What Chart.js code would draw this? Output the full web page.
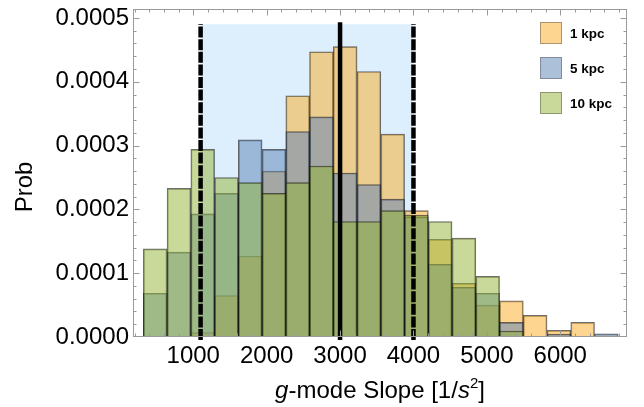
<!DOCTYPE html>
<html>
<head>
<meta charset="utf-8">
<script src="https://cdn.jsdelivr.net/npm/chart.js@4.4.1/dist/chart.umd.min.js"></script>
<style>
  html, body { margin: 0; padding: 0; background: #fff; }
</style>
</head>
<body>
<canvas id="slopeHist" width="644" height="407"></canvas>
<script>
// Histogram of the g-mode slope for three distances

// bin centres (1/s^2)
const binCenters = [481.75, 805.25, 1128.75, 1452.25, 1775.75, 2099.25, 2422.75, 2746.25, 3069.75, 3393.25,
                    3716.75, 4040.25, 4363.75, 4687.25, 5010.75, 5334.25, 5657.75, 5981.25, 6304.75, 6628.25];

// probability per bin
const prob1kpc  = [0, 0, 0.07e-4, 0.65e-4, 1.27e-4, 2.60e-4, 3.78e-4, 4.47e-4, 4.55e-4, 4.16e-4,
                   3.18e-4, 1.98e-4, 1.53e-4, 0.84e-4, 0.50e-4, 0.565e-4, 0.34e-4, 0.105e-4, 0.23e-4, 0];
const prob5kpc  = [0.685e-4, 1.33e-4, 1.93e-4, 2.25e-4, 3.09e-4, 2.94e-4, 3.22e-4, 3.45e-4, 2.57e-4, 2.39e-4,
                   2.16e-4, 1.88e-4, 1.14e-4, 0.78e-4, 0.685e-4, 0.23e-4, 0, 0.047e-4, 0, 0.05e-4];
const prob10kpc = [1.38e-4, 2.33e-4, 2.94e-4, 2.50e-4, 2.42e-4, 2.25e-4, 2.42e-4, 2.68e-4, 1.81e-4, 1.81e-4,
                   1.98e-4, 1.91e-4, 1.81e-4, 1.55e-4, 0.95e-4, 0.094e-4, 0, 0, 0, 0];

const seriesLabels = ['1 kpc', '5 kpc', '10 kpc'];

const xTickValues = [1000, 2000, 3000, 4000, 5000, 6000];
const yTickValues = [0, 0.0001, 0.0002, 0.0003, 0.0004, 0.0005];

// shaded band and marker lines
const bandRange = [1100, 4000];
const bandTop = 0.00049;
const dashedAt = [1100, 4000];
const solidAt = [3000];

const FONT = "'Liberation Sans', Arial, Helvetica, sans-serif";

function toPoints(vals) {
  return binCenters.map((c, i) => ({ x: c, y: vals[i] || null }));
}

const framePlugin = {
  id: 'mmaFrame',
  beforeDatasetsDraw(chart) {
    const { ctx, scales: { x, y } } = chart;
    const l = x.getPixelForValue(bandRange[0]);
    const r = x.getPixelForValue(bandRange[1]);
    const t = y.getPixelForValue(bandTop);
    const b = y.getPixelForValue(0);
    ctx.save();
    ctx.fillStyle = '#ddeefd';
    ctx.fillRect(l, t, r - l, b - t);
    ctx.restore();
  },
  afterDatasetsDraw(chart) {
    const { ctx, chartArea: a, scales: { x, y } } = chart;
    const y0 = y.getPixelForValue(0);
    const yt = y.getPixelForValue(bandTop);

    ctx.save();
    ctx.strokeStyle = '#000';
    ctx.lineWidth = 4.5;
    ctx.setLineDash([11, 1.6]);
    dashedAt.forEach(v => {
      const px = x.getPixelForValue(v);
      ctx.beginPath();
      ctx.moveTo(px, y0 + 3);
      ctx.lineTo(px, yt);
      ctx.stroke();
    });
    ctx.setLineDash([]);
    solidAt.forEach(v => {
      const px = x.getPixelForValue(v);
      ctx.beginPath();
      ctx.moveTo(px, y0 + 3);
      ctx.lineTo(px, yt - 2);
      ctx.stroke();
    });

    // frame with inward ticks on all sides
    ctx.strokeStyle = '#9a9a9a';
    ctx.lineWidth = 1;
    const L = Math.round(a.left) + 0.5, R = Math.round(a.right) - 0.5;
    const T = Math.round(a.top) + 0.5, B = Math.round(a.bottom) - 0.5;
    ctx.strokeRect(L, T, R - L, B - T);
    ctx.beginPath();
    for (let v = 200; v < x.max; v += 200) {
      const px = Math.round(x.getPixelForValue(v)) + 0.5;
      const len = v % 1000 === 0 ? 6 : 3;
      ctx.moveTo(px, B); ctx.lineTo(px, B - len);
      ctx.moveTo(px, T); ctx.lineTo(px, T + len);
    }
    for (let k = 1; k <= 25; k++) {
      const v = k * 0.00002;
      const py = Math.round(y.getPixelForValue(v)) + 0.5;
      const len = k % 5 === 0 ? 6 : 3;
      ctx.moveTo(L, py); ctx.lineTo(L + len, py);
      ctx.moveTo(R, py); ctx.lineTo(R - len, py);
    }
    ctx.stroke();
    ctx.restore();
  },
  afterDraw(chart) {
    const { ctx, chartArea: a } = chart;
    ctx.save();

    // legend inside the frame, top right
    chart.data.datasets.forEach((ds, i) => {
      const bx = 540, by = 22 + 35 * i;
      ctx.fillStyle = '#fff';
      ctx.fillRect(bx, by, 22, 22);
      ctx.fillStyle = ds.backgroundColor;
      ctx.fillRect(bx, by, 22, 22);
      ctx.strokeStyle = 'rgba(70,70,70,0.45)';
      ctx.lineWidth = 1;
      ctx.strokeRect(bx + 0.5, by + 0.5, 21, 21);
      ctx.fillStyle = '#000';
      ctx.font = 'bold 13.5px ' + FONT;
      ctx.textAlign = 'left';
      ctx.textBaseline = 'middle';
      ctx.fillText(ds.label, 570, by + 12);
    });

    // y title
    ctx.fillStyle = '#000';
    ctx.font = '24px ' + FONT;
    ctx.translate(25, 187);
    ctx.rotate(-Math.PI / 2);
    ctx.textAlign = 'center';
    ctx.textBaseline = 'middle';
    ctx.fillText('Prob', 0, 0);
    ctx.setTransform(1, 0, 0, 1, 0, 0);

    // x title with italic g and s, superscript 2
    const parts = [
      { t: 'g', font: 'italic 24px ' + FONT, dy: 0 },
      { t: '-mode Slope [1/', font: '24px ' + FONT, dy: 0 },
      { t: 's', font: 'italic 24px ' + FONT, dy: 0 },
      { t: '2', font: '15px ' + FONT, dy: -10 },
      { t: ']', font: '24px ' + FONT, dy: 0 }
    ];
    let total = 0;
    parts.forEach(p => { ctx.font = p.font; p.w = ctx.measureText(p.t).width; total += p.w; });
    let cx = (a.left + a.right) / 2 - total / 2;
    ctx.textAlign = 'left';
    ctx.textBaseline = 'alphabetic';
    parts.forEach(p => {
      ctx.font = p.font;
      ctx.fillText(p.t, cx, 398 + p.dy);
      cx += p.w;
    });
    ctx.restore();
  }
};

const barStyle = {
  grouped: false,
  barPercentage: 1,
  categoryPercentage: 1,
  borderWidth: 1,
  borderSkipped: 'start',
  borderColor: 'rgba(20,20,20,0.62)'
};

new Chart(document.getElementById('slopeHist'), {
  type: 'bar',
  data: {
    datasets: [
      Object.assign({ label: seriesLabels[0], data: toPoints(prob1kpc),
        backgroundColor: 'rgba(251,171,36,0.5)', order: 3 }, barStyle),
      Object.assign({ label: seriesLabels[1], data: toPoints(prob5kpc),
        backgroundColor: 'rgba(92,129,181,0.5)', order: 2 }, barStyle),
      Object.assign({ label: seriesLabels[2], data: toPoints(prob10kpc),
        backgroundColor: 'rgba(145,179,53,0.5)', order: 1 }, barStyle)
    ]
  },
  options: {
    responsive: false,
    animation: false,
    devicePixelRatio: 1,
    layout: { padding: { left: 0, right: 17, top: 9, bottom: 0 } },
    plugins: {
      legend: { display: false },
      tooltip: { enabled: false }
    },
    scales: {
      x: {
        type: 'linear',
        offset: false,
        min: 179,
        max: 6909,
        grid: { display: false, drawTicks: false },
        border: { display: false },
        ticks: {
          color: '#000', font: { family: FONT, size: 24 }, padding: 5, maxRotation: 0, autoSkip: false,
          callback: v => String(v)
        },
        afterBuildTicks(s) { s.ticks = xTickValues.map(value => ({ value })); },
        afterFit(s) { s.height = 70; s.paddingLeft = 0; s.paddingRight = 0; }
      },
      y: {
        min: 0,
        max: 0.000514,
        grid: { display: false, drawTicks: false },
        border: { display: false },
        ticks: {
          color: '#000', font: { family: FONT, size: 24 }, padding: 4,
          callback: v => v.toFixed(4)
        },
        afterBuildTicks(s) { s.ticks = yTickValues.map(value => ({ value })); },
        afterFit(s) { s.width = 133; s.paddingTop = 0; s.paddingBottom = 0; }
      }
    }
  },
  plugins: [framePlugin]
});
</script>
</body>
</html>
